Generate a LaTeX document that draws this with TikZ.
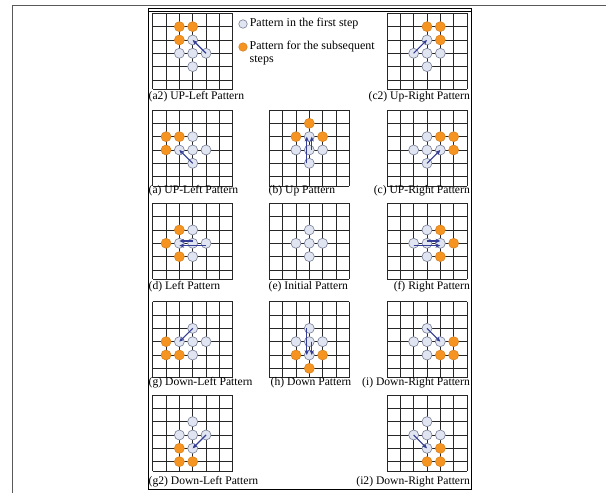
\documentclass[tikz,border=0pt]{standalone}
\usepackage{fontspec}
\setmainfont{Liberation Serif}
\usetikzlibrary{arrows.meta,positioning}
\definecolor{dotorange}{RGB}{246,148,34}
\definecolor{dotedge}{RGB}{118,126,150}
\definecolor{dotfill}{RGB}{224,229,241}
\definecolor{mvblue}{RGB}{52,62,150}
\definecolor{framegray}{RGB}{90,90,90}
\tikzset{
  gridline/.style={line width=0.75pt, draw=black!85},
  firstdot/.style={circle, draw=dotedge, fill=dotfill, line width=0.6pt,
                   minimum size=10pt, inner sep=0pt},
  nextdot/.style={circle, draw=dotorange!85!black, fill=dotorange, line width=0.5pt,
                  minimum size=10pt, inner sep=0pt},
  mv/.style={-{Stealth[length=4.8pt,width=4.2pt]}, line width=1.1pt, draw=mvblue, fill=mvblue},
  lbl/.style={inner sep=0pt, font=\fontsize{11.6}{14}\selectfont},
  keytext/.style={inner sep=0pt, font=\fontsize{12}{14}\selectfont},
  cell/.style={x=13.33pt, y=-13.33pt},
}
% board of 6 columns, last row cut short
\newcommand{\board}{%
  \foreach \k in {0,...,6} \draw[gridline] (\k,0) -- (\k,5.7);
  \foreach \k in {0,...,5} \draw[gridline] (0,\k) -- (6,\k);
  \draw[gridline] (0,5.7) -- (6,5.7);
}
% the five first-step dots, named <prefix>c/u/d/l/r
\newcommand{\firstset}[1]{%
  \node[firstdot] (#1c) at (3,3) {};
  \node[firstdot] (#1u) at (3,2) {};
  \node[firstdot] (#1d) at (3,4) {};
  \node[firstdot] (#1l) at (2,3) {};
  \node[firstdot] (#1r) at (4,3) {};
}

\begin{document}
\begin{tikzpicture}[x=1pt, y=-1pt]
  \useasboundingbox (0,0) rectangle (606,493);
  \fill[white] (0,0) rectangle (606,493);

  % frames
  \draw[framegray, line width=0.6pt] (12,493) -- (12,5) -- (606,5);
  \draw[line width=0.7pt] (148,8.5) rectangle (471,489.5);
  \draw[line width=0.5pt] (148,10.8) -- (471,10.8);

  % (a2)
  \begin{scope}[shift={(152.7,13.3)}, cell]
    \board
    \firstset{a2}
    \node[nextdot] (a2o1) at (2,1) {};
    \node[nextdot] (a2o2) at (3,1) {};
    \node[nextdot] (a2o3) at (2,2) {};
    \draw[mv] (a2r.center) -- (a2u.center);
  \end{scope}
  \node[lbl, anchor=west] (la2) at (148.5,97) {(a2) UP-Left Pattern};

  % key
  \node[firstdot, minimum size=8.5pt] (key1) at (243,24) {};
  \node[keytext, right=2pt of key1] (key1t) {Pattern in the first step};
  \node[nextdot, minimum size=8.5pt] (key2) at (243,47) {};
  \node[keytext, right=2pt of key2] (key2t) {Pattern for the subsequent};
  \node[keytext, anchor=north west] (key2s) at ([yshift=-2.5pt]key2t.south west) {steps};

  % (c2)
  \begin{scope}[shift={(387,13.3)}, cell]
    \board
    \firstset{c2}
    \node[nextdot] (c2o1) at (3,1) {};
    \node[nextdot] (c2o2) at (4,1) {};
    \node[nextdot] (c2o3) at (4,2) {};
    \draw[mv] (c2l.center) -- (c2u.center);
  \end{scope}
  \node[lbl, anchor=east] (lc2) at (470,97) {(c2) Up-Right Pattern};

  % (a)
  \begin{scope}[shift={(152.7,110)}, cell]
    \board
    \firstset{a}
    \node[nextdot] (ao1) at (1,2) {};
    \node[nextdot] (ao2) at (2,2) {};
    \node[nextdot] (ao3) at (1,3) {};
    \draw[mv] (ad.center) -- (al.center);
  \end{scope}
  \node[lbl, anchor=west] (la) at (148.5,190.5) {(a) UP-Left Pattern};

  % (b)
  \begin{scope}[shift={(269.3,110)}, cell]
    \board
    \firstset{b}
    \node[nextdot] (bo1) at (3,1) {};
    \node[nextdot] (bo2) at (2,2) {};
    \node[nextdot] (bo3) at (4,2) {};
    \draw[mv] ([xshift=-2.5pt]bd.center) -- ([xshift=-2.5pt]bu.center);
    \draw[mv] ([xshift=2.5pt]bc.center) -- ([xshift=2.5pt]bu.center);
  \end{scope}
  \node[lbl, anchor=west] (lb) at (268.5,190.5) {(b) Up Pattern};

  % (c)
  \begin{scope}[shift={(387,110)}, cell]
    \board
    \firstset{c}
    \node[nextdot] (co1) at (4,2) {};
    \node[nextdot] (co2) at (5,2) {};
    \node[nextdot] (co3) at (5,3) {};
    \draw[mv] (cd.center) -- (cr.center);
  \end{scope}
  \node[lbl, anchor=east] (lc) at (470,190.5) {(c) UP-Right Pattern};

  % (d)
  \begin{scope}[shift={(152.7,203.3)}, cell]
    \board
    \firstset{d}
    \node[nextdot] (do1) at (2,2) {};
    \node[nextdot] (do2) at (1,3) {};
    \node[nextdot] (do3) at (2,4) {};
    \draw[mv] ([yshift=-2.3pt]dr.center) -- ([yshift=-2.3pt]dl.center);
    \draw[mv] ([yshift=2.3pt]dc.center) -- ([yshift=2.3pt]dl.center);
  \end{scope}
  \node[lbl, anchor=west] (ld) at (148.5,287) {(d) Left Pattern};

  % (e)
  \begin{scope}[shift={(269.3,203.3)}, cell]
    \board
    \firstset{e}
  \end{scope}
  \node[lbl, anchor=west] (le) at (268.5,287) {(e) Initial Pattern};

  % (f)
  \begin{scope}[shift={(387,203.3)}, cell]
    \board
    \firstset{f}
    \node[nextdot] (fo1) at (4,2) {};
    \node[nextdot] (fo2) at (5,3) {};
    \node[nextdot] (fo3) at (4,4) {};
    \draw[mv] ([yshift=-2.3pt]fl.center) -- ([yshift=-2.3pt]fr.center);
    \draw[mv] ([yshift=2.3pt]fc.center) -- ([yshift=2.3pt]fr.center);
  \end{scope}
  \node[lbl, anchor=east] (lf) at (470,287) {(f) Right Pattern};

  % (g)
  \begin{scope}[shift={(152.7,301.7)}, cell]
    \board
    \firstset{g}
    \node[nextdot] (go1) at (1,3) {};
    \node[nextdot] (go2) at (1,4) {};
    \node[nextdot] (go3) at (2,4) {};
    \draw[mv] (gu.center) -- (gl.center);
  \end{scope}
  \node[lbl, anchor=west] (lg) at (148.5,383) {(g) Down-Left Pattern};

  % (h)
  \begin{scope}[shift={(269.3,301.7)}, cell]
    \board
    \firstset{h}
    \node[nextdot] (ho1) at (2,4) {};
    \node[nextdot] (ho2) at (4,4) {};
    \node[nextdot] (ho3) at (3,5) {};
    \draw[mv] ([xshift=-2.5pt]hu.center) -- ([xshift=-2.5pt]hd.center);
    \draw[mv] ([xshift=2.5pt]hc.center) -- ([xshift=2.5pt]hd.center);
  \end{scope}
  \node[lbl, anchor=west] (lh) at (270.5,383) {(h) Down Pattern};

  % (i)
  \begin{scope}[shift={(387,301.7)}, cell]
    \board
    \firstset{i}
    \node[nextdot] (io1) at (5,3) {};
    \node[nextdot] (io2) at (4,4) {};
    \node[nextdot] (io3) at (5,4) {};
    \draw[mv] (iu.center) -- (ir.center);
  \end{scope}
  \node[lbl, anchor=east] (li) at (470,383) {(i) Down-Right Pattern};

  % (g2)
  \begin{scope}[shift={(152.7,395)}, cell]
    \board
    \firstset{g2}
    \node[nextdot] (g2o1) at (2,4) {};
    \node[nextdot] (g2o2) at (2,5) {};
    \node[nextdot] (g2o3) at (3,5) {};
    \draw[mv] (g2r.center) -- (g2d.center);
  \end{scope}
  \node[lbl, anchor=west] (lg2) at (148.5,481.5) {(g2) Down-Left Pattern};

  % (i2)
  \begin{scope}[shift={(387,395)}, cell]
    \board
    \firstset{i2}
    \node[nextdot] (i2o1) at (4,4) {};
    \node[nextdot] (i2o2) at (3,5) {};
    \node[nextdot] (i2o3) at (4,5) {};
    \draw[mv] (i2l.center) -- (i2d.center);
  \end{scope}
  \node[lbl, anchor=east] (li2) at (470,481.5) {(i2) Down-Right Pattern};
\end{tikzpicture}
\end{document}
